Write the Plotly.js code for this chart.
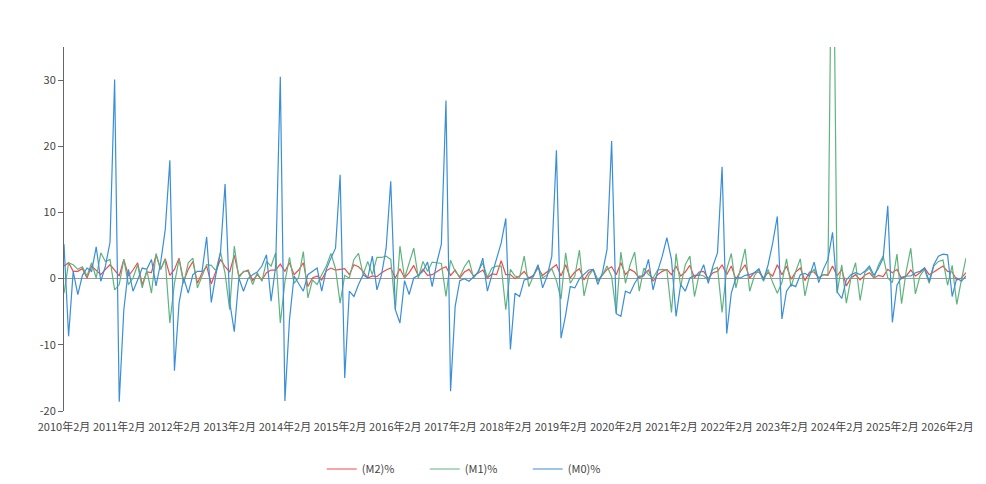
<!DOCTYPE html>
<html>
<head>
<meta charset="utf-8">
<script src="https://cdn.plot.ly/plotly-3.0.1.min.js"></script>
<style>
  html, body { margin: 0; padding: 0; background: #fff; }
  #chart { width: 986px; height: 484px; }
</style>
</head>
<body>
<div id="chart"></div>
<script>
// month-on-month change, %, one value per month from 2010年2月
var m2 = [
  1.9, 2.4, 1.1, 1.1, 1.5, 0.1, 1.9, 1.3, 0.6, 1.4, 2.1, 1.3,
  0.4, 2.9, 0.4, 1.3, 2.4, -0.9, 1.0, 0.9, 3.6, 1.4, 3.0, 0.5,
  1.4, 3.1, -0.4, 1.4, 2.6, -0.7, 0.9, 1.9, -0.8, 1.1, 2.9, 1.8,
  1.0, 3.5, 0.4, 1.0, 1.3, -0.3, 0.6, -0.2, 0.9, 1.3, 1.3, 2.2,
  1.1, 2.4, 0.6, 1.3, 2.4, -1.2, 0.1, 0.4, -0.2, 1.2, 1.6, 1.3,
  1.4, 1.5, 0.6, 2.1, 1.8, 1.1, 0.1, 0.4, 0.3, 0.9, 1.3, 1.6,
  0.1, 1.5, 0.1, 0.9, 2.0, 0.4, 1.4, 0.5, 0.6, 1.1, 1.5, 1.8,
  0.5, 1.3, 0.1, 1.0, 1.4, 0.4, 0.9, 1.3, 0.1, 0.7, 0.6, 2.7,
  0.6, 0.6, 0.0, 0.4, 1.1, 0.1, 0.5, 1.6, 0.5, 1.0, 1.5, 2.1,
  0.4, 2.1, 0.1, 1.0, 1.5, -0.2, 0.9, 1.4, -0.3, 0.6, 1.4, 1.8,
  0.6, 2.4, 0.6, 1.4, 1.0, 0.1, 0.6, 1.3, -0.4, 0.6, 1.1, 1.4,
  0.6, 1.9, 0.4, 1.0, 2.0, 0.1, 1.0, 1.1, 0.0, 0.9, 1.1, 2.1,
  0.6, 1.9, -0.1, 1.1, 2.1, 0.1, 0.9, 1.0, 0.1, 0.9, 0.4, 2.1,
  0.6, 1.9, -0.1, 1.0, 1.6, -0.3, 1.0, 1.0, 0.1, 0.6, 0.5, 1.9,
  0.4, 1.4, -1.1, 0.1, 0.6, -0.2, 0.5, 0.9, 0.1, 0.5, 0.3, 1.4,
  0.9, 1.4, 0.0, 0.4, 1.3, 0.4, 0.9, 1.6, 0.6, 1.0, 1.4, 1.9,
  1.1, 1.0, -0.2, 0.1, 0.9
];

var m1 = [
  -2.2, 2.4, 2.1, 1.4, 1.8, 0.4, 2.4, 0.1, 3.9, 2.6, 2.9, -1.7,
  -0.9, 2.9, -0.9, 0.1, 2.1, -1.4, 1.3, -2.2, 3.8, 1.4, 2.9, -6.7,
  -0.7, 2.9, -0.7, 2.4, 3.1, -1.4, 0.4, 2.1, 2.0, 1.2, 4.0, 0.8,
  -4.7, 4.9, 0.1, 1.1, 1.1, -0.9, 0.9, -0.4, 2.6, 1.9, 3.9, -6.7,
  -0.5, 3.2, -0.7, 0.2, 4.1, -2.9, -0.2, -0.9, 0.6, 1.9, 3.8, 1.5,
  -3.7, 0.5, 0.1, 2.9, 3.8, 0.6, 2.6, 0.6, 3.2, 3.2, 3.4, 2.9,
  -4.7, 4.9, 0.1, 2.4, 4.6, 0.1, 2.6, 1.1, 2.5, 2.4, 2.3, -2.7,
  2.8, 1.1, 0.3, 1.8, 2.8, 0.1, 1.1, 2.4, 0.2, 1.6, 1.9, 1.9,
  -4.7, 1.4, 0.4, 0.2, 3.4, -1.2, 0.4, 1.9, 0.1, 0.6, 1.5, -0.3,
  -3.1, 3.9, -0.7, 0.4, 4.3, -2.6, 0.4, 1.4, -0.2, 0.5, 1.9, 0.3,
  -5.2, 4.0, -0.7, 2.1, 4.0, -1.9, 1.6, 0.6, 0.1, 1.3, 1.4, 1.3,
  -5.1, 3.8, -1.2, 2.1, 3.4, -2.7, 0.6, 0.4, -0.2, 1.4, 1.7, -5.1,
  1.4, 3.8, -1.4, 1.6, 4.5, -1.9, 0.4, 1.4, -0.4, 1.4, -0.6, -2.2,
  -0.6, 3.0, -1.2, 1.1, 3.0, -2.6, 0.6, 1.4, 0.1, 0.6, 0.6, 67.0,
  -2.2, 2.1, -3.7, 0.1, 2.4, -3.3, 0.9, 1.6, 0.1, 2.1, 3.4, 0.1,
  -0.6, 3.7, -3.8, 1.1, 4.6, -2.3, 0.4, 1.4, -0.7, 1.9, 2.6, 2.8,
  -1.0, 2.0, -3.9, -0.2, 3.1
];

var m0 = [
  5.2, -8.7, 1.1, -2.4, 0.5, 1.6, 1.1, 4.8, -0.4, 1.9, 5.5, 30.1,
  -18.6, -4.7, 1.4, -1.9, -0.2, 1.6, 1.4, 2.9, -1.1, 2.4, 7.4, 17.9,
  -13.9, -3.7, 0.1, -2.2, 0.6, 1.1, 1.1, 6.3, -3.6, 0.6, 3.9, 14.3,
  -3.5, -8.0, 0.1, -1.9, 0.0, 0.6, 1.0, 1.9, 3.6, -3.4, 1.9, 30.5,
  -18.5, -6.2, 0.4, -0.7, -1.9, 0.6, 1.1, 1.6, -1.9, 1.4, 3.1, 4.6,
  15.7, -15.0, -1.9, -2.7, -0.9, 0.6, 0.1, 3.4, -1.7, 0.6, 4.6, 14.7,
  -4.7, -6.7, -0.3, -2.4, 0.1, 0.5, 1.1, 2.5, -1.2, 2.4, 5.2, 26.9,
  -17.0, -4.2, -0.3, 0.0, -0.4, 0.2, 0.9, 3.1, -1.9, 0.6, 2.9, 5.4,
  9.1, -10.7, -2.2, -2.7, -0.2, 0.0, 0.4, 2.1, -1.4, 0.4, 3.4, 19.4,
  -9.0, -5.5, -1.2, -1.4, 0.0, 0.6, 1.3, 1.4, -0.9, 0.9, 4.4, 20.8,
  -5.3, -5.7, -1.9, -2.2, -0.7, 0.4, 0.4, 2.9, -1.7, 1.1, 3.4, 6.2,
  2.9, -5.7, -0.9, -1.9, 0.1, 0.5, 0.5, 2.1, -0.7, 1.9, 3.9, 16.9,
  -8.3, -2.2, 0.1, 0.1, 0.5, 0.6, 0.9, 1.5, -0.2, 2.1, 5.4, 9.4,
  -6.1, -1.9, -0.9, -1.2, 0.6, 0.8, 0.4, 2.5, -0.6, 1.4, 2.9, 7.0,
  -2.0, -3.0, -0.2, 0.6, 0.9, 0.6, 1.1, 1.9, 0.5, 1.6, 3.1, 11.0,
  -6.6, -1.0, 0.2, 0.4, 0.4, 0.9, 1.1, 1.6, -0.4, 2.1, 3.4, 3.7,
  3.6, -2.7, 0.1, -0.4, 0.4
];

var seriesNames = ['(M2)%', '(M1)%', '(M0)%'];
var seriesColors = ['#f24a4a', '#5fb47e', '#3a8fd8'];
var yTicks = [-20, -10, 0, 10, 20, 30];

// month labels, 2010年2月 onwards
var months = [];
for (var k = 0; k < m0.length; k++) {
    var mm = 1 + k; // months after Jan 2010
    var year = 2010 + Math.floor(mm / 12);
    var mon = (mm % 12) + 1;
    months.push(year + '年' + mon + '月');
}
var xTicks = months.filter(function (d, i) { return i % 12 === 0; });

var font = 'Noto Sans CJK SC, Noto Sans, sans-serif';

var data = [m2, m1, m0].map(function (vals, i) {
    return {
        type: 'scatter',
        mode: 'lines',
        x: months,
        y: vals,
        name: seriesNames[i],
        line: { color: seriesColors[i], width: 1.2 },
        hoverinfo: 'x+y+name'
    };
});

var layout = {
    width: 986,
    height: 484,
    margin: { l: 64, r: 20, t: 47, b: 73, autoexpand: false },
    paper_bgcolor: '#fff',
    plot_bgcolor: '#fff',
    showlegend: true,
    legend: {
        orientation: 'h',
        xref: 'container', yref: 'container',
        x: 0.483, xanchor: 'center',
        y: 0.031, yanchor: 'middle',
        entrywidth: 58, entrywidthmode: 'pixels',
        itemwidth: 30,
        font: { family: font, size: 11, color: '#444' }
    },
    xaxis: {
        type: 'category',
        range: [0, m0.length - 1],
        tickmode: 'array',
        tickvals: xTicks,
        ticktext: xTicks,
        tickangle: 0,
        showgrid: false,
        showline: false,
        zeroline: false,
        ticks: 'outside',
        ticklen: 6,
        tickcolor: 'rgba(0,0,0,0)',
        tickfont: { family: font, size: 11, color: '#444' },
        fixedrange: true
    },
    yaxis: {
        range: [-20, 35],
        tickmode: 'array',
        tickvals: yTicks,
        ticktext: yTicks.map(String),
        showgrid: false,
        showline: true,
        linecolor: '#666',
        linewidth: 1,
        ticks: 'outside',
        ticklen: 5,
        tickcolor: '#666',
        zeroline: true,
        zerolinecolor: '#9a9a9a',
        zerolinewidth: 1.4,
        tickfont: { family: font, size: 11, color: '#444' },
        fixedrange: true
    }
};

Plotly.newPlot('chart', data, layout, { displayModeBar: false, staticPlot: true });
</script>
</body>
</html>
